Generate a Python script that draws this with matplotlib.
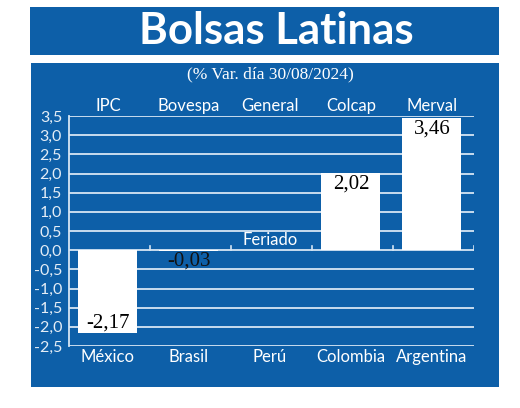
import matplotlib
matplotlib.use('Agg')
import matplotlib.pyplot as plt
from matplotlib.patches import Rectangle

# datos
paises = ['México', 'Brasil', 'Perú', 'Colombia', 'Argentina']
indices = ['IPC', 'Bovespa', 'General', 'Colcap', 'Merval']
variacion = [-2.17, -0.03, 0.0, 2.02, 3.46]
etiquetas = ['-2,17', '-0,03', 'Feriado', '2,02', '3,46']
yticks = [-2.5, -2.0, -1.5, -1.0, -0.5, 0.0, 0.5, 1.0, 1.5, 2.0, 2.5, 3.0, 3.5]

azul = '#0d5fa8'
linea = '#d6e6f4'
sans = 'Lato'
serif = 'Liberation Serif'

W, H = 520, 408
fig = plt.figure(figsize=(W / 100, H / 100), dpi=100)
fig.patch.set_facecolor('white')

# cajas de fondo
fig.patches.append(Rectangle((30 / W, 1 - 55 / H), 469 / W, 48 / H, zorder=-10,
                             transform=fig.transFigure, facecolor=azul, edgecolor='none'))
fig.patches.append(Rectangle((31 / W, 1 - 387 / H), 468 / W, 324 / H, zorder=-10,
                             transform=fig.transFigure, facecolor=azul, edgecolor='none'))

fig.text(276 / W, 1 - 31 / H, 'Bolsas Latinas', ha='center', va='center',
         color='white', fontsize=31.5, fontweight='bold', family=sans)
fig.text(270 / W, 1 - 74 / H, '(% Var. día 30/08/2024)', ha='center', va='center',
         color='white', fontsize=12.5, family=serif)

ax = fig.add_axes([69 / W, 1 - 346 / H, (474 - 69) / W, (346 - 116) / H])
ax.set_facecolor('none')
ax.set_xlim(-0.48, 4.52)
ax.set_ylim(-2.5, 3.5)

for y in yticks:
    ax.axhline(y, color=linea, lw=1.3, zorder=1)

x = range(len(paises))
ax.bar(x, variacion, width=0.73, color='white', zorder=2)

# marcas pequeñas sobre el cero
for b in [0.52, 1.52, 2.52, 3.52, 4.52]:
    ax.plot([b, b], [0, 0.1], color=linea, lw=1.2, zorder=1)

for spine in ax.spines.values():
    spine.set_visible(False)
ax.plot([-0.48, -0.48], [-2.5, 3.5], color=linea, lw=1.3, zorder=1, clip_on=False)

ax.set_yticks(yticks)
ax.set_yticklabels([('%.1f' % v).replace('.', ',') for v in yticks])
ax.tick_params(axis='y', length=0, pad=5, colors='#e4edf6', labelsize=11.5)
for t in ax.get_yticklabels():
    t.set_family(sans)

ax.set_xticks(list(x))
ax.set_xticklabels(paises, family=sans, fontsize=12, color='white')
ax.tick_params(axis='x', length=0, pad=2)

for i, nombre in enumerate(indices):
    ax.text(i, 3.55, nombre, ha='center', va='bottom', color='white',
            fontsize=12, family=sans)

# etiquetas de valores
ax.text(0, -1.9, etiquetas[0], ha='center', va='center', color='black', fontsize=15, family=serif, zorder=3)
ax.text(1, -0.28, etiquetas[1], ha='center', va='center', color='#111111', fontsize=15, family=serif, zorder=3)
ax.text(2, 0.27, etiquetas[2], ha='center', va='center', color='white', fontsize=12, family=sans, zorder=3)
ax.text(3, 1.72, etiquetas[3], ha='center', va='center', color='black', fontsize=15, family=serif, zorder=3)
ax.text(4, 3.16, etiquetas[4], ha='center', va='center', color='black', fontsize=15, family=serif, zorder=3)

fig.savefig('out.png', dpi=100)
